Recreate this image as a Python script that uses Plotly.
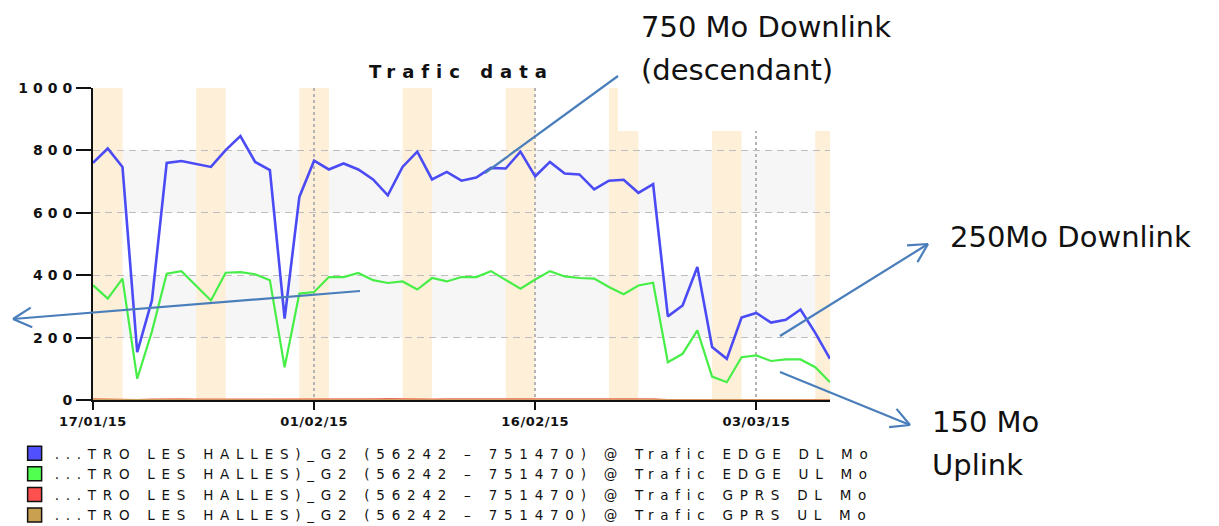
import math
import pandas as pd
import plotly.graph_objects as go

# ---- data: daily traffic (Mo), 17/01/15 -> 08/03/15 ----
start_day = "2015-01-17"
n_days = 51
days = pd.date_range(start_day, periods=n_days, freq="D")

edge_dl = [760, 806, 747, 153, 320, 760, 766, 756, 747, 801,
           846, 763, 737, 261, 651, 767, 739, 758, 739, 707,
           656, 747, 796, 707, 731, 703, 713, 744, 742, 796,
           717, 763, 726, 723, 675, 703, 706, 664, 692, 268,
           303, 426, 170, 132, 264, 279, 248, 257, 290, 215,
           132]
edge_ul = [368, 325, 389, 68, 220, 405, 413, 365, 319, 408,
           410, 403, 384, 105, 341, 346, 394, 394, 407, 384,
           375, 380, 354, 391, 380, 394, 394, 413, 386, 357,
           386, 413, 396, 391, 389, 362, 339, 367, 376, 121,
           148, 223, 75, 57, 137, 143, 125, 130, 130, 105,
           57]
gprs_dl = [3, 2, 3, 1, 2, 3, 3, 2, 2, 3,
           3, 2, 3, 1, 2, 3, 3, 3, 2, 3,
           4, 3, 3, 2, 3, 3, 3, 3, 2, 2,
           3, 3, 4, 3, 2, 3, 2, 2, 3, 1,
           1, 2, 1, 1, 1, 1, 1, 1, 1, 1,
           1]
gprs_ul = [1, 1, 1, 0, 1, 1, 1, 1, 1, 1,
           1, 1, 1, 0, 1, 1, 1, 1, 1, 1,
           1, 1, 1, 1, 1, 1, 1, 1, 1, 1,
           1, 1, 1, 1, 1, 1, 1, 1, 1, 0,
           0, 1, 0, 0, 0, 0, 0, 0, 0, 0,
           0]

series_names = [
    "...TRO LES HALLES)_G2 (56242 – 751470) @ Trafic EDGE DL Mo",
    "...TRO LES HALLES)_G2 (56242 – 751470) @ Trafic EDGE UL Mo",
    "...TRO LES HALLES)_G2 (56242 – 751470) @ Trafic GPRS DL Mo",
    "...TRO LES HALLES)_G2 (56242 – 751470) @ Trafic GPRS UL Mo",
]
line_colors = ["#4b4bf5", "#47ee47", "#f06a5a", "#c9a35a"]
box_colors = ["#5050ff", "#50ff50", "#ff5050", "#c8a050"]

tick_dates = ["2015-01-17", "2015-02-01", "2015-02-16", "2015-03-03"]
y_ticks = [0, 200, 400, 600, 800, 1000]
y_bands = [(200, 400), (600, 800)]

# ---- page geometry (px) ----
W, H = 1219, 526
PL, PR, PT, PB = 93, 830, 88, 400


def fx(xp):
    return (xp - PL) / (PR - PL)


def fy(yp):
    return (PB - yp) / (PB - PT)


fig = go.Figure()

for vals, name, col, lw in zip([edge_dl, edge_ul, gprs_dl, gprs_ul],
                               series_names, line_colors, [2.6, 2.2, 1.6, 1.2]):
    fig.add_trace(go.Scatter(x=days, y=vals, mode="lines", name=name,
                             line=dict(color=col, width=lw), showlegend=False,
                             hoverinfo="skip"))

# legend entries drawn as boxes
for name, col in zip(series_names, box_colors):
    fig.add_trace(go.Scatter(x=[None], y=[None], mode="markers", name=name,
                             marker=dict(symbol="square", size=14, color=col,
                                         line=dict(color="#111", width=1.5))))

shapes = []
# light grey alternating bands
for lo, hi in y_bands:
    shapes.append(dict(type="rect", xref="paper", yref="y", x0=0, x1=1, y0=lo, y1=hi,
                       fillcolor="#f6f6f6", line_width=0, layer="below"))
# weekend shading (Saturday + Sunday)
for d in days:
    if d.weekday() == 5:
        end = min(d + pd.Timedelta(days=2), days[-1])
        shapes.append(dict(type="rect", xref="x", yref="y", x0=d, x1=end, y0=0, y1=1000,
                           fillcolor="#fdefd8", line_width=0, layer="below"))

# white panel behind the top-right label
shapes.append(dict(type="rect", xref="paper", yref="paper", x0=fx(618), x1=fx(W),
                   y0=fy(131), y1=fy(0), fillcolor="white", line_width=0, layer="above"))

# callout lines and arrows
arrow_col = "#4a7ebb"


def seg(x0, y0, x1, y1):
    return dict(type="line", xref="paper", yref="paper", x0=fx(x0), y0=fy(y0),
                x1=fx(x1), y1=fy(y1), line=dict(color=arrow_col, width=2.2), layer="above")


def arrow(tail, head, length=21, ang=28):
    out = [seg(*tail, *head)]
    dx, dy = tail[0] - head[0], tail[1] - head[1]
    n = math.hypot(dx, dy)
    ux, uy = dx / n, dy / n
    for s in (1, -1):
        a = math.radians(ang * s)
        rx = ux * math.cos(a) - uy * math.sin(a)
        ry = ux * math.sin(a) + uy * math.cos(a)
        out.append(seg(head[0], head[1], head[0] + length * rx, head[1] + length * ry))
    return out


shapes.append(seg(618, 76, 485, 173))
shapes += arrow((360, 291), (13, 319))
shapes += arrow((780, 336), (928, 244))
shapes += arrow((780, 372), (910, 425))

label_font = dict(family="DejaVu Sans", size=29, color="#111")
annotations = []
for txt, x, y in [("750 Mo Downlink", 639, 27), ("(descendant)", 639, 70),
                  ("250Mo Downlink", 948, 237), ("150 Mo", 930, 422),
                  ("Uplink", 930, 465)]:
    annotations.append(dict(text=txt, x=fx(x), y=fy(y), xref="paper", yref="paper",
                            xanchor="left", yanchor="middle", showarrow=False,
                            font=label_font))

fig.update_layout(
    width=W, height=H,
    margin=dict(l=PL, r=W - PR, t=PT, b=H - PB, autoexpand=False),
    paper_bgcolor="white", plot_bgcolor="white",
    title=dict(text="Trafic data", x=0.5, xref="paper", xanchor="center",
               y=1 - 72 / H, yanchor="middle",
               font=dict(family="DejaVu Sans", size=18, color="#111", weight="bold")),
    shapes=shapes, annotations=annotations,
    legend=dict(xref="container", yref="container", x=0.012, y=1 - 438 / H,
                xanchor="left", yanchor="top", bgcolor="rgba(0,0,0,0)",
                font=dict(family="DejaVu Sans", size=13.5, color="#111"),
                tracegroupgap=0, itemwidth=30),
    xaxis=dict(type="date", range=[days[0], days[-1]], tickvals=tick_dates,
               tickformat="%d/%m/%y", showgrid=True, gridcolor="#b4b4b4",
               griddash="3px,3px", gridwidth=2, showline=True, linecolor="#111",
               linewidth=2, ticks="outside", ticklen=8, tickwidth=2, tickcolor="#111",
               tickfont=dict(family="DejaVu Sans", size=13, color="#111", weight="bold"),
               zeroline=False),
    yaxis=dict(range=[0, 1000], tickvals=y_ticks, showgrid=True, gridcolor="#bdbdbd",
               griddash="7px,5px", gridwidth=1.2, showline=True, linecolor="#111",
               linewidth=2, ticks="outside", ticklen=15, tickwidth=2, tickcolor="#111",
               tickfont=dict(family="DejaVu Sans", size=14, color="#111", weight="bold"),
               ticklabelstandoff=-4, zeroline=False),
)

# wide, stretched-looking lettering for axis, title and legend texts
css = """
var st = document.createElement('style');
st.textContent = '.ytick text{letter-spacing:5px}' +
  '.xtick text{letter-spacing:0.5px}' +
  '.gtitle{letter-spacing:7px}' +
  '.legendtext{letter-spacing:6.75px}' +
  '.legend .scrollbox, .legend g{clip-path:none !important}';
document.head.appendChild(st);
"""

fig.write_html("out.html", post_script=css, config={"displayModeBar": False})
